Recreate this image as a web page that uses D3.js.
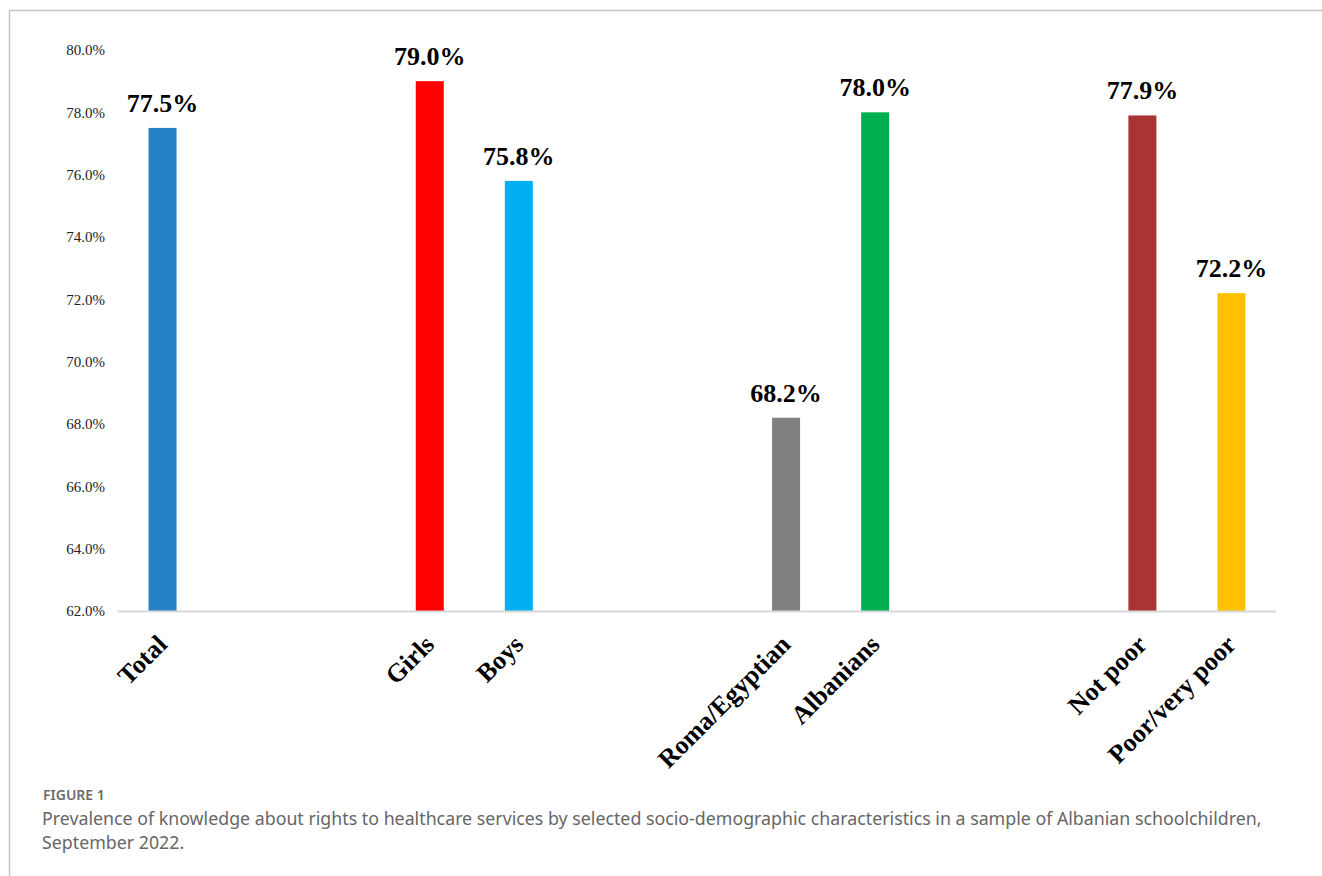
<!DOCTYPE html>
<html>
<head>
<meta charset="utf-8">
<script src="https://cdn.jsdelivr.net/npm/d3@7"></script>
<style>
  body { margin: 0; background: #fff; }
  svg { display: block; }
</style>
</head>
<body>
<div id="chart"></div>
<script>
// categories incl. empty spacer slots between groups
var slots = ["Total", "s1", "s2", "Girls", "Boys", "s3", "s4", "Roma/Egyptian", "Albanians", "s5", "s6", "Not poor", "Poor/very poor"];
var categories = ["Total", "Girls", "Boys", "Roma/Egyptian", "Albanians", "Not poor", "Poor/very poor"];
var values = [77.5, 79.0, 75.8, 68.2, 78.0, 77.9, 72.2];
var barColors = ["#2581c4", "#ff0000", "#00b0f0", "#808080", "#00b050", "#aa3434", "#ffc000"];
var yTicks = [62, 64, 66, 68, 70, 72, 74, 76, 78, 80];

var serif = "'Liberation Serif', 'Times New Roman', serif";
var sans = "'Noto Sans', sans-serif";

var W = 1322, H = 876;
var margin = { top: 50, left: 118, right: 46, bottom: 265 };
var width = W - margin.left - margin.right;
var height = 611 - margin.top;

var svg = d3.select("#chart").append("svg")
  .attr("width", W)
  .attr("height", H);

// frame around the figure
svg.append("path")
  .attr("d", "M9.5," + H + "V10.5H" + W)
  .attr("fill", "none")
  .attr("stroke", "#c4c4c4")
  .attr("stroke-width", 1.5);

var g = svg.append("g")
  .attr("transform", "translate(" + margin.left + "," + margin.top + ")");

var xscale = d3.scaleBand().domain(slots).range([0, width]).paddingInner(0).paddingOuter(0);
var yscale = d3.scaleLinear().domain([62, 80]).range([height, 0]);
var pformat = d3.format(".1f");

var data = categories.map(function(c, i) {
  return { label: c, value: values[i], color: barColors[i] };
});

// y axis labels only (no line)
var yaxis = d3.axisLeft(yscale).tickValues(yTicks).tickSize(0).tickPadding(13)
  .tickFormat(function(d) { return pformat(d) + "%"; });
var yg = g.append("g").call(yaxis);
yg.select(".domain").remove();
yg.selectAll("text")
  .style("font-family", serif)
  .style("font-size", "15px")
  .attr("fill", "#222");

var bw = 28;

g.selectAll(".bar")
  .data(data)
  .enter().append("rect")
  .attr("class", "bar")
  .attr("x", function(d) { return xscale(d.label) + xscale.bandwidth() / 2 - bw / 2; })
  .attr("width", bw)
  .attr("y", function(d) { return yscale(d.value); })
  .attr("height", function(d) { return height - yscale(d.value); })
  .attr("fill", function(d) { return d.color; });

// baseline
g.append("line")
  .attr("x1", 0).attr("x2", width)
  .attr("y1", height + 0.5).attr("y2", height + 0.5)
  .attr("stroke", "#d9d9d9")
  .attr("stroke-width", 2);

// value labels
g.selectAll(".val")
  .data(data)
  .enter().append("text")
  .attr("class", "val")
  .attr("x", function(d) { return xscale(d.label) + xscale.bandwidth() / 2; })
  .attr("y", function(d) { return yscale(d.value) - 16; })
  .attr("text-anchor", "middle")
  .style("font-family", serif)
  .style("font-weight", "bold")
  .style("font-size", "26px")
  .attr("fill", "#000")
  .text(function(d) { return pformat(d.value) + "%"; });

// category labels, rotated
g.selectAll(".cat")
  .data(data)
  .enter().append("text")
  .attr("class", "cat")
  .attr("transform", function(d) {
    var cx = xscale(d.label) + xscale.bandwidth() / 2 + 6;
    return "translate(" + cx + "," + (height + 35) + ") rotate(-45)";
  })
  .attr("text-anchor", "end")
  .style("font-family", serif)
  .style("font-weight", "bold")
  .style("font-size", "26px")
  .attr("fill", "#000")
  .text(function(d) { return d.label; });

// caption
svg.append("text")
  .attr("x", 43).attr("y", 800)
  .style("font-family", sans)
  .style("font-weight", "600")
  .style("font-size", "14px")
  .attr("fill", "#6b6b6b")
  .text("FIGURE 1");

svg.append("text")
  .attr("x", 42).attr("y", 825)
  .style("font-family", sans)
  .style("font-size", "17.8px")
  .attr("fill", "#666")
  .text("Prevalence of knowledge about rights to healthcare services by selected socio-demographic characteristics in a sample of Albanian schoolchildren,");

svg.append("text")
  .attr("x", 42).attr("y", 849)
  .style("font-family", sans)
  .style("font-size", "17.8px")
  .attr("fill", "#666")
  .text("September 2022.");
</script>
</body>
</html>
